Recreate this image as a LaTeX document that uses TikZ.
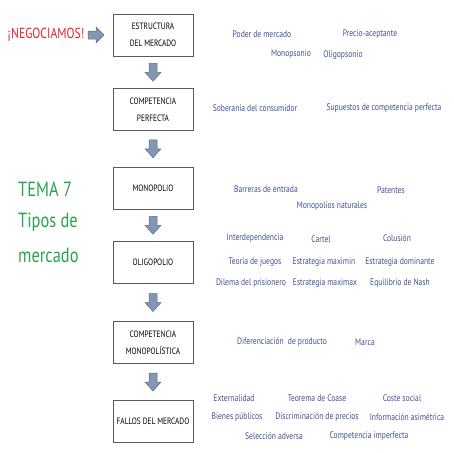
\documentclass[tikz,border=0pt]{standalone}
\usepackage{fontspec}
\setmainfont{PT Sans}[FakeStretch=0.8]
\definecolor{kwblue}{RGB}{62,80,145}
\definecolor{arrfill}{RGB}{132,151,176}
\definecolor{arrline}{RGB}{88,108,140}
\definecolor{temagreen}{RGB}{40,165,75}
\definecolor{negred}{RGB}{225,35,45}
\definecolor{boxline}{RGB}{90,90,90}
\begin{document}
\begin{tikzpicture}[x=1pt,y=-1pt,
  stage/.style={draw=boxline,line width=0.6pt,fill=white,minimum width=80pt,minimum height=42pt,
    align=center,inner sep=1pt,font=\fontsize{9.2}{17}\selectfont},
  kw/.style={text=kwblue,font=\fontsize{9.5}{11}\selectfont,inner sep=0pt},
  blockarrow/.style={fill=arrfill,draw=arrline,line width=0.5pt},
  tema/.style={text=temagreen,font=\fontsize{20.5}{24}\selectfont,anchor=west,inner sep=0pt}]
\useasboundingbox (0,0) rectangle (453,453);
% stages
\node[stage] (b1) at (153,35) {ESTRUCTURA\\DEL MERCADO};
\node[stage] (b2) at (153,109.5) {COMPETENCIA\\PERFECTA};
\node[stage] (b3) at (153,188) {MONOPOLIO};
\node[stage] (b4) at (153,262.5) {OLIGOPOLIO};
\node[stage] (b5) at (153,342.5) {COMPETENCIA\\MONOPOLÍSTICA};
\node[stage] (b6) at (153,421.5) {FALLOS DEL MERCADO};
% down arrows
\foreach \a/\b [count=\i] in {b1/b2,b2/b3,b3/b4,b4/b5,b5/b6}{
  \path (\a.south) -- (\b.north) coordinate[pos=0.5] (m\i);
  \draw[blockarrow] ([shift={(-4,-9)}]m\i) -- ([shift={(4,-9)}]m\i) -- ([shift={(4,0)}]m\i)
    -- ([shift={(8,0)}]m\i) -- ([shift={(0,9)}]m\i) -- ([shift={(-8,0)}]m\i)
    -- ([shift={(-4,0)}]m\i) -- cycle;
}
% left texts
\node[text=negred,font=\fontsize{14.6}{16}\selectfont,inner sep=0pt] (neg) at (46,35) {¡NEGOCIAMOS!};
\coordinate (ra) at (96,35);
\draw[blockarrow] ([shift={(-8,-4)}]ra) -- ([shift={(0,-4)}]ra) -- ([shift={(0,-8)}]ra)
  -- ([shift={(8,0)}]ra) -- ([shift={(0,8)}]ra) -- ([shift={(0,4)}]ra) -- ([shift={(-8,4)}]ra) -- cycle;
\node[tema] (t1) at (18,189) {TEMA 7};
\node[tema] (t2) at (18,222) {Tipos de};
\node[tema] (t3) at (18,255) {mercado};
% keywords
\node[kw] (k1) at (262,34) {Poder de mercado};
\node[kw] (k2) at (370,34) {Precio-aceptante};
\node[kw] (k3) at (291,54) {Monopsonio};
\node[kw] (k4) at (343,55) {Oligopsonio};
\node[kw] (k5) at (255,108) {Soberanía del consumidor};
\node[kw] (k6) at (384,108) {Supuestos de competencia perfecta};
\node[kw] (k7) at (266,189) {Barreras de entrada};
\node[kw] (k8) at (391,190) {Patentes};
\node[kw] (k9) at (332,206) {Monopolios naturales};
\node[kw] (k10) at (255,238) {Interdependencia};
\node[kw] (k11) at (321,239) {Cartel};
\node[kw] (k12) at (397,238) {Colusión};
\node[kw] (k13) at (255,262) {Teoría de juegos};
\node[kw] (k14) at (324,262) {Estrategia maximin};
\node[kw] (k15) at (400,262) {Estrategia dominante};
\node[kw] (k16) at (251,283) {Dilema del prisionero};
\node[kw] (k17) at (325,283) {Estrategia maximax};
\node[kw] (k18) at (400,283) {Equilibrio de Nash};
\node[kw] (k19) at (282,342) {Diferenciación\ \ de producto};
\node[kw] (k20) at (365,342) {Marca};
\node[kw] (k21) at (234,398) {Externalidad};
\node[kw] (k22) at (317,398) {Teorema de Coase};
\node[kw] (k23) at (402,398) {Coste social};
\node[kw] (k24) at (237,417) {Bienes públicos};
\node[kw] (k25) at (317,417) {Discriminación de precios};
\node[kw] (k26) at (407,417) {Información asimétrica};
\node[kw] (k27) at (274,436) {Selección adversa};
\node[kw] (k28) at (369,436) {Competencia imperfecta};
\end{tikzpicture}
\end{document}
